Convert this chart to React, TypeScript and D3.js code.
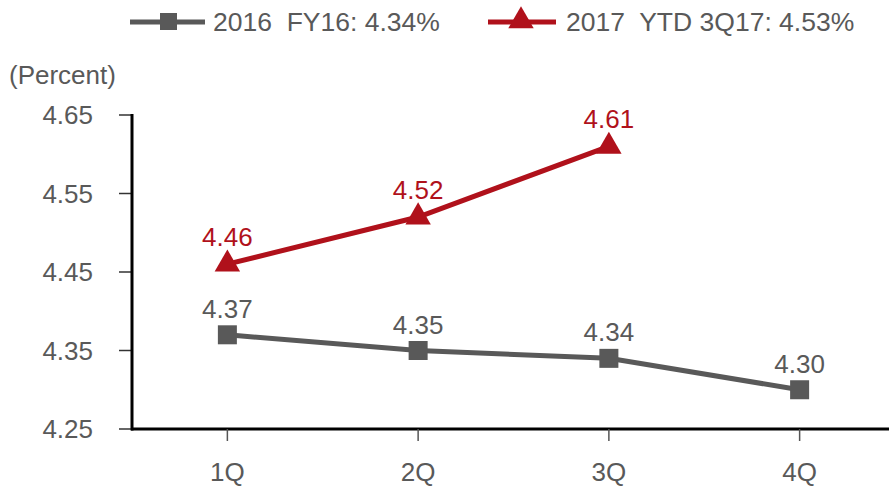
import { useEffect } from 'react';
import * as d3 from 'd3';

const quarters = ['1Q', '2Q', '3Q', '4Q'];
const values2016 = [4.37, 4.35, 4.34, 4.3];
const values2017 = [4.46, 4.52, 4.61];
const yTicks = [4.25, 4.35, 4.45, 4.55, 4.65];
const legendLabels = ['2016  FY16: 4.34%', '2017  YTD 3Q17: 4.53%'];

const GRAY = '#595959';
const RED = '#b0111b';
const FONT = 'Liberation Sans, Arial, sans-serif';

export default function App() {
  useEffect(() => {
    document.body.style.margin = '0';
  }, []);

  const W = 889, H = 490;
  const x = d3.scalePoint<string>().domain(quarters).range([132, 895]).padding(0.5);
  const y = d3.scaleLinear().domain([4.25, 4.65]).range([429, 115]);

  const line = d3.line<number>().x((_, i) => x(quarters[i])!).y(d => y(d));
  const tri = d3.symbol().type(d3.symbolTriangle).size(280)();
  const sq = 19;

  return (
    <svg width={W} height={H} style={{ display: 'block', fontFamily: FONT }}>
      {/* legend */}
      <g>
        <line x1={130} x2={205} y1={22} y2={22} stroke={GRAY} strokeWidth={5} />
        <rect x={160} y={13} width={17} height={17} fill={GRAY} />
        <text x={213} y={31} fontSize={26.5} fill={GRAY} style={{ whiteSpace: 'pre' }}>{legendLabels[0]}</text>
        <line x1={488} x2={556} y1={22} y2={22} stroke={RED} strokeWidth={5} />
        <path d={tri!} transform="translate(521,21)" fill={RED} />
        <text x={566} y={31} fontSize={26.5} fill={GRAY} style={{ whiteSpace: 'pre' }}>{legendLabels[1]}</text>
      </g>

      <text x={9} y={84} fontSize={26} fill={GRAY}>(Percent)</text>

      {/* y axis */}
      {yTicks.map(t => (
        <g key={t}>
          <line x1={119} x2={132} y1={y(t)} y2={y(t)} stroke="#333" strokeWidth={1.5} />
          <text x={93} y={y(t)} dy="0.35em" textAnchor="end" fontSize={26} fill={GRAY}>{t.toFixed(2)}</text>
        </g>
      ))}
      <line x1={132} x2={132} y1={y(4.65) - 1} y2={y(4.25) + 1.5} stroke="#000" strokeWidth={3} />

      {/* x axis */}
      <line x1={131} x2={889} y1={y(4.25)} y2={y(4.25)} stroke="#000" strokeWidth={3} />
      {quarters.map(q => (
        <g key={q}>
          <line x1={x(q)} x2={x(q)} y1={y(4.25)} y2={y(4.25) + 12} stroke="#555" strokeWidth={1.5} />
          <text x={x(q)} y={481} textAnchor="middle" fontSize={26} fill={GRAY}>{q}</text>
        </g>
      ))}

      {/* 2016 series */}
      <path d={line(values2016)!} fill="none" stroke={GRAY} strokeWidth={5} />
      {values2016.map((v, i) => (
        <g key={i}>
          <rect x={x(quarters[i])! - sq / 2} y={y(v) - sq / 2} width={sq} height={sq} fill={GRAY} />
          <text x={x(quarters[i])} y={y(v) - 17} textAnchor="middle" fontSize={26} fill={GRAY}>{v.toFixed(2)}</text>
        </g>
      ))}

      {/* 2017 series */}
      <path d={line(values2017)!} fill="none" stroke={RED} strokeWidth={5} />
      {values2017.map((v, i) => (
        <g key={i}>
          <path d={tri!} transform={`translate(${x(quarters[i])},${y(v)})`} fill={RED} />
          <text x={x(quarters[i])} y={y(v) - 18} textAnchor="middle" fontSize={26} fill={RED}>{v.toFixed(2)}</text>
        </g>
      ))}
    </svg>
  );
}
